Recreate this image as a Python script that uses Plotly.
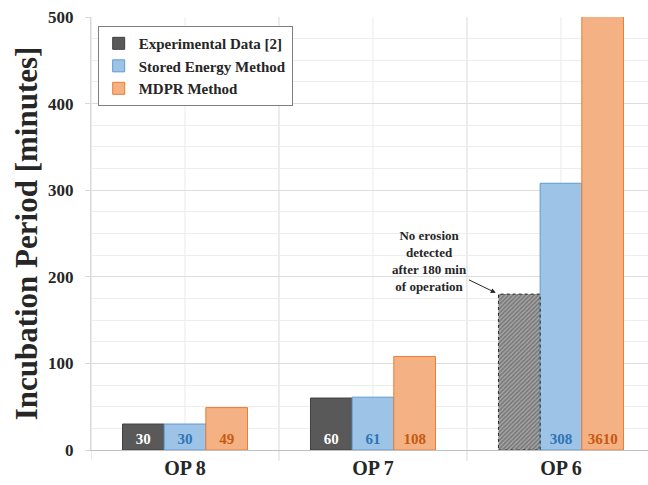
import plotly.graph_objects as go

categories = ["OP 8", "OP 7", "OP 6"]
experimental = [30, 60, 180]
stored_energy = [30, 61, 308]
mdpr = [49, 108, 3610]
y_ticks = [0, 100, 200, 300, 400, 500]
annotation_text = "No erosion<br>detected<br>after 180 min<br>of operation"

FONT = "Liberation Serif"
BARGAP = 0.335
x_idx = list(range(len(categories)))


def bold(size, color="#262626"):
    return dict(family=FONT, size=size, color=color, weight="bold")


fig = go.Figure()
fig.add_trace(go.Bar(
    name="Experimental Data [2]", x=x_idx, y=experimental,
    text=[str(v) for v in experimental[:2]] + [""],
    textposition="inside", insidetextanchor="start",
    textfont=bold(15, "white"),
    marker=dict(color=["#595959", "#595959", "#A6A6A6"],
                line=dict(color=["#404040", "#404040", "rgba(0,0,0,0)"], width=1),
                pattern=dict(shape=["", "", "/"], fgcolor="#303030",
                             fillmode="overlay", size=3, solidity=0.5)),
))
fig.add_trace(go.Bar(
    name="Stored Energy Method", x=x_idx, y=stored_energy,
    text=[str(v) for v in stored_energy],
    textposition="inside", insidetextanchor="start",
    textfont=bold(15, "#2E75B6"),
    marker=dict(color="#9DC3E6", line=dict(color="#5B9BD5", width=1)),
))
fig.add_trace(go.Bar(
    name="MDPR Method", x=x_idx, y=mdpr,
    text=[str(v) for v in mdpr],
    textposition="inside", insidetextanchor="start",
    textfont=bold(15, "#C55A11"),
    marker=dict(color="#F4B183", line=dict(color="#ED7D31", width=1)),
    cliponaxis=True,
))

# dashed outline of the hatched (censored) bar, derived from the data and bar gap
group_w = 1 - BARGAP
bar_w = group_w / 3
hx0 = x_idx[2] - group_w / 2
fig.add_shape(type="rect", xref="x", yref="y", x0=hx0, x1=hx0 + bar_w,
              y0=0, y1=experimental[2],
              line=dict(color="#262626", width=1, dash="dot"), layer="above")

# arrow and text
fig.add_annotation(
    x=hx0, y=experimental[2], xref="x", yref="y", text="",
    showarrow=True, arrowhead=2, arrowsize=1, arrowwidth=1,
    arrowcolor="#262626", ax=-31, ay=-15, standoff=3,
)
fig.add_annotation(
    x=hx0, y=experimental[2], xref="x", yref="y",
    text=annotation_text, showarrow=False,
    xanchor="right", yanchor="bottom", xshift=-29, yshift=-2,
    font=bold(13), align="center",
)

fig.update_layout(
    width=648, height=485,
    margin=dict(l=91, r=0, t=17, b=35),
    paper_bgcolor="white", plot_bgcolor="white",
    barmode="group", bargap=BARGAP, bargroupgap=0,
    font=dict(family=FONT, color="#262626"),
    showlegend=True,
    legend=dict(x=0.012, y=0.979, xanchor="left", yanchor="top",
                bgcolor="white", bordercolor="#7F7F7F", borderwidth=1,
                font=bold(15), tracegroupgap=0, itemwidth=30),
    xaxis=dict(
        range=[-0.5, 2.463], tickmode="array", tickvals=x_idx, ticktext=categories,
        tickfont=bold(20), automargin=False,
        showgrid=False, showline=True, linecolor="#BFBFBF", linewidth=1,
        ticks="", minor=dict(showgrid=False),
    ),
    yaxis=dict(
        range=[0, 500], tickmode="array", tickvals=y_ticks,
        tickfont=bold(17), automargin=False, ticklabelstandoff=8,
        title=dict(text="Incubation Period [minutes]", font=bold(31), standoff=1),
        showgrid=True, gridcolor="#DDDDDD", gridwidth=1,
        showline=True, linecolor="#D9D9D9", linewidth=1,
        ticks="outside", ticklen=5, tickcolor="#D9D9D9",
        minor=dict(dtick=25, showgrid=True, gridcolor="#EDEDED", gridwidth=1),
        zeroline=False,
    ),
)

# vertical gridlines at category boundaries and centres
for i in range(len(categories) + 1):
    fig.add_shape(type="line", xref="x", yref="paper", x0=i - 0.5, x1=i - 0.5,
                  y0=-0.025, y1=1, line=dict(color="#D9D9D9", width=1), layer="below")
for i in x_idx:
    fig.add_shape(type="line", xref="x", yref="paper", x0=i, x1=i,
                  y0=0, y1=1, line=dict(color="#EBEBEB", width=1), layer="below")

fig.write_html(
    "out.html",
    config={"displayModeBar": False},
    post_script="document.body.style.margin='0';document.body.style.overflow='hidden';",
)
